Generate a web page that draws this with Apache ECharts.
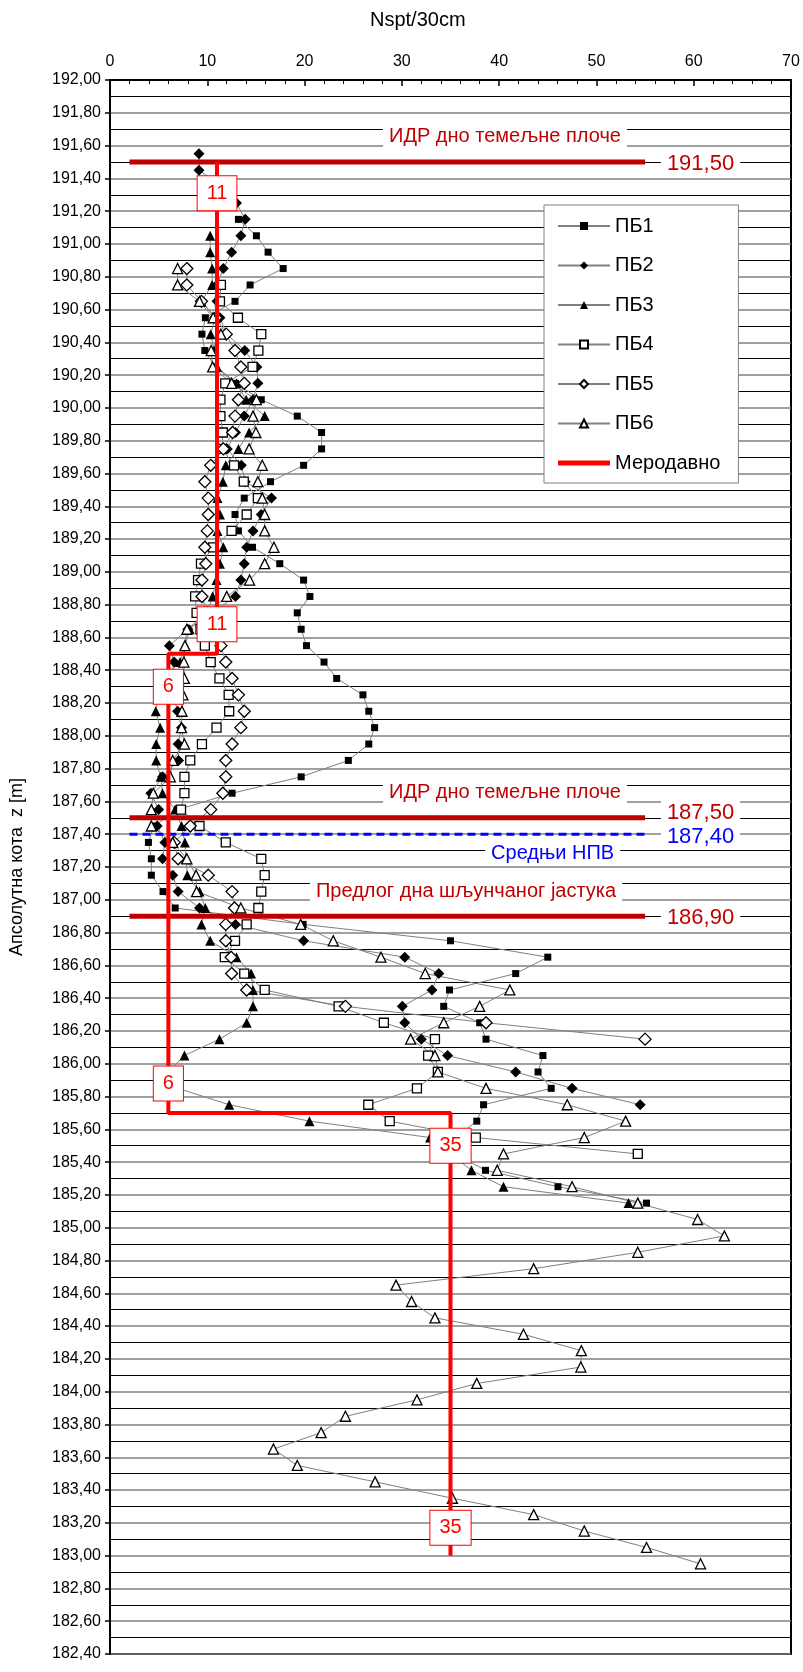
<!DOCTYPE html>
<html><head><meta charset="utf-8">
<script src="https://cdn.jsdelivr.net/npm/echarts@6/dist/echarts.min.js"></script>
<style>html,body{margin:0;padding:0;background:#fff}#c{width:803px;height:1672px}</style>
</head><body><div id="c"></div>
<script>
// depth levels (m) at which Nspt values are plotted
const depths = [191.55,191.45,191.35,191.25,191.15,191.05,190.95,190.85,190.75,190.65,
190.55,190.45,190.35,190.25,190.15,190.05,189.95,189.85,189.75,189.65,
189.55,189.45,189.35,189.25,189.15,189.05,188.95,188.85,188.75,188.65,
188.55,188.45,188.35,188.25,188.15,188.05,187.95,187.85,187.75,187.65,
187.55,187.45,187.35,187.25,187.15,187.05,186.95,186.85,186.75,186.65,
186.55,186.45,186.35,186.25,186.15,186.05,185.95,185.85,185.75,185.65,
185.55,185.45,185.35,185.25,185.15,185.05,184.95,184.85,184.75,184.65,
184.55,184.45,184.35,184.25,184.15,184.05,183.95,183.85,183.75,183.65,
183.55,183.45,183.35,183.25,183.15,183.05,182.95];

const PB1 = [null,null,null,null,13.2,15.05,16.25,17.8,14.4,12.85,
9.8,9.45,9.75,10.8,12.9,15.55,19.25,21.75,21.75,19.9,
16.5,13.8,12.85,13.2,14.65,17.45,19.9,20.55,19.25,19.65,
20.2,22.0,23.3,26.0,26.6,27.2,26.6,24.5,19.65,12.55,
7.0,4.5,3.95,4.25,4.25,5.45,6.7,19.85,35.0,45.0,
41.7,34.9,34.3,38.0,38.65,44.5,44.0,45.35,38.4,37.7,
35.5,35.5,38.6,46.05,55.15];
const PB2 = [9.15,9.15,11.5,13.0,13.9,13.45,12.5,11.65,11.0,11.0,
11.3,12.0,13.85,15.1,15.2,14.7,13.8,12.9,12.05,13.5,
13.9,16.6,15.55,14.7,14.05,13.8,13.45,12.9,10.5,8.0,
6.1,6.6,6.2,6.5,6.95,7.35,7.0,7.05,5.4,4.2,
5.0,4.85,5.65,5.4,6.45,7.0,9.2,12.9,19.9,30.3,
33.8,33.1,30.05,30.3,32.0,34.7,41.7,47.5,54.5];
const PB3 = [null,null,null,null,null,10.3,10.3,10.5,10.5,9.4,
10.8,10.35,10.7,11.0,13.0,14.0,15.9,14.3,13.2,11.9,
11.6,11.05,11.3,11.05,11.65,11.3,10.95,10.55,10.0,8.2,
7.7,7.2,5.5,5.0,4.7,5.15,4.75,4.75,5.2,5.4,
6.7,7.35,7.7,7.8,7.95,9.2,9.8,9.4,10.3,13.0,
14.5,14.7,14.7,14.05,11.25,7.65,6.0,7.0,12.25,20.5,
32.9,35.0,37.15,40.45,53.3];
const PB4 = [null,null,null,null,null,null,null,null,11.4,11.3,
13.15,15.55,15.25,14.65,11.85,11.35,11.35,11.6,11.5,12.75,
13.75,15.2,14.05,12.5,10.6,9.35,9.05,8.75,8.9,9.3,
9.75,10.35,11.25,12.2,12.25,10.95,9.45,8.25,7.65,7.65,
7.3,9.2,11.9,15.55,15.9,15.55,15.25,14.05,12.85,11.8,
13.8,15.9,23.5,28.15,33.4,32.7,33.7,31.55,26.55,28.75,
37.6,54.25];
const PB5 = [null,null,null,null,null,null,null,7.9,7.9,9.4,
10.9,11.95,12.85,13.45,13.8,13.2,12.85,12.6,11.65,10.35,
9.75,10.1,10.1,10.0,9.75,9.85,9.45,9.45,10.0,10.8,
11.4,11.9,12.55,13.2,13.8,13.45,12.55,11.9,11.9,11.6,
10.35,8.25,6.6,7.0,10.1,12.55,12.8,11.9,11.9,12.45,
12.5,14.05,24.2,38.65,55.0];
const PB6 = [null,null,null,null,null,null,null,6.95,6.95,9.2,
10.6,11.4,10.4,10.55,12.5,15.05,14.7,15.0,14.3,15.65,
15.2,15.65,15.9,15.9,16.85,15.9,14.35,12.0,10.0,7.9,
7.7,7.6,7.65,7.5,7.4,7.35,7.65,6.45,6.2,4.45,
4.25,4.25,6.45,7.9,8.85,8.9,13.45,19.6,22.95,27.85,
32.4,41.1,38.0,34.3,30.9,33.4,33.7,38.65,47.0,53.0,
48.75,40.45,39.8,47.5,54.25,60.4,63.15,54.25,43.55,29.4,
31.0,33.4,42.5,48.45,48.4,37.7,31.55,24.2,21.7,16.8,
19.25,27.25,35.2,43.55,48.75,55.15,60.7];

// governing ("Меродавно") step profile
const govN = [11, 11, 6, 6, 35, 35];
const govZ = [191.5, 188.5, 188.5, 185.7, 185.7, 183.0];
// boxed value labels on the governing line
const govLabelN = [11, 11, 6, 6, 35, 35];
const govLabelZ = [191.31, 188.68, 188.30, 185.88, 185.50, 183.17];

// reference levels
const levelZ = [191.5, 187.5, 186.9];
const levelText = ['191,50', '187,50', '186,90'];
const levelLabelZ = [191.49, 187.53, 186.89];
const gwlZ = 187.4, gwlText = '187,40', gwlLabelZ = 187.385;
const levelFrom = 2, levelTo = 55, levelLabelN = 60.7;

// text notes
const notes = [
  {t: 'ИДР дно темељне плоче', n: 40.6, z: 191.655, c: '#c00000'},
  {t: 'ИДР дно темељне плоче', n: 40.6, z: 187.655, c: '#c00000'},
  {t: 'Средњи НПВ', n: 45.5, z: 187.28, c: '#0000ff'},
  {t: 'Предлог дна шљунчаног јастука', n: 36.6, z: 187.05, c: '#c00000'}
];

const xTicks = {min: 0, max: 70, step: 10};
const yTicks = {min: 182.4, max: 192.0, step: 0.2};

function pts(arr) {
  const out = [];
  arr.forEach((v, i) => { if (v != null) out.push([v, depths[i]]); });
  return out;
}

const lineGray = {color: '#808080', width: 1};
const FONT = 'Liberation Sans, Arial, sans-serif';
const CLEAR = 'rgba(0,0,0,0)';

function pbSeries(name, arr, symbol, size, filled) {
  return {
    name, type: 'line', data: pts(arr), symbol, symbolSize: size,
    showSymbol: true, lineStyle: lineGray, z: 3,
    itemStyle: filled ? {color: '#000'} : {color: '#fff', borderColor: '#000', borderWidth: 1.3},
    emphasis: {disabled: true}, animation: false
  };
}

const series = [
  pbSeries('ПБ1', PB1, 'rect', 7, true),
  pbSeries('ПБ2', PB2, 'diamond', 11, true),
  pbSeries('ПБ3', PB3, 'triangle', 10, true),
  pbSeries('ПБ4', PB4, 'rect', 9, false),
  pbSeries('ПБ5', PB5, 'diamond', 12, false),
  pbSeries('ПБ6', PB6, 'triangle', 10, false)
];

// level lines
levelZ.forEach((z, i) => {
  series.push({
    name: 'lvl' + i, type: 'line', data: [[levelFrom, z], [levelTo, z]],
    symbol: 'none', lineStyle: {color: '#c00000', width: 5}, z: 4, animation: false, silent: true
  });
});
series.push({
  name: 'gwl', type: 'line', data: [[levelFrom, gwlZ], [levelTo, gwlZ]],
  symbol: 'none', lineStyle: {color: '#0000ff', width: 3, type: [8, 5]}, z: 4, animation: false, silent: true
});

series.push({
  name: 'Меродавно', type: 'line', data: govN.map((n, i) => [n, govZ[i]]),
  symbol: 'none', lineStyle: {color: '#ff0000', width: 4}, itemStyle: {color: '#ff0000'}, z: 5, animation: false
});

function labelSeries(name, data, label, z) {
  return {
    name, type: 'scatter', symbol: 'rect', symbolSize: 1, z, animation: false, silent: true,
    itemStyle: {color: CLEAR, opacity: 1}, emphasis: {disabled: true},
    labelLayout: {hideOverlap: false},
    data, label: Object.assign({show: true, position: 'inside', fontFamily: FONT}, label)
  };
}

// level value labels (ground-water label first so 187,50 stays on top)
const lvlLabelData = [{value: [levelLabelN, gwlLabelZ], name: gwlText, label: {color: '#0000ff'}}];
levelZ.forEach((z, i) => lvlLabelData.push({value: [levelLabelN, levelLabelZ[i]], name: levelText[i], label: {color: '#c00000'}}));
series.push(labelSeries('lvlLabels', lvlLabelData,
  {formatter: p => p.name, fontSize: 22, backgroundColor: '#fff', padding: [2, 6]}, 8));

// notes
series.push(labelSeries('notes',
  notes.map(d => ({value: [d.n, d.z], name: d.t, label: {color: d.c}})),
  {formatter: p => p.name, fontSize: 20, backgroundColor: '#fff', padding: [1, 6]}, 8));

// governing value boxes
series.push(labelSeries('govLabels',
  govLabelN.map((n, i) => ({value: [n, govLabelZ[i]], name: String(n)})),
  {formatter: p => p.name, fontSize: 20, color: '#ff0000', backgroundColor: '#fff',
   borderColor: '#ff0000', borderWidth: 1, padding: [7, 9]}, 9));

const chart = echarts.init(document.getElementById('c'), null, {renderer: 'canvas'});
chart.setOption({
  animation: false,
  backgroundColor: '#fff',
  textStyle: {fontFamily: FONT},
  grid: {left: 106, right: 12, top: 80, bottom: 18, show: true, borderColor: '#000', borderWidth: 2, backgroundColor: 'transparent'},
  graphic: [{type: 'text', left: 370, top: 10, style: {text: 'Nspt/30cm', font: '20px ' + FONT, fill: '#000'}}],
  legend: {
    orient: 'vertical', left: 544, top: 205,
    data: ['ПБ1','ПБ2','ПБ3','ПБ4','ПБ5','ПБ6', {name: 'Меродавно', icon: 'path://M0,0h52v5h-52z'}],
    itemWidth: 52, itemHeight: 10, itemGap: 19.5, padding: [11, 18, 10, 13],
    backgroundColor: '#fff', borderColor: '#808080', borderWidth: 1,
    textStyle: {fontSize: 20, lineHeight: 20, color: '#000', fontFamily: FONT},
    selectedMode: false
  },
  xAxis: {
    type: 'value', position: 'top', min: xTicks.min, max: xTicks.max, interval: xTicks.step,
    axisLine: {show: true, lineStyle: {color: '#000', width: 2}},
    axisTick: {show: true, inside: true, length: 6, lineStyle: {color: '#000', width: 1.5}},
    minorTick: {show: true, splitNumber: 5, length: 4, lineStyle: {color: '#000', width: 1}},
    splitLine: {show: false},
    axisLabel: {fontSize: 16, color: '#000', margin: 10, fontFamily: FONT}
  },
  yAxis: {
    type: 'value', min: yTicks.min, max: yTicks.max, interval: yTicks.step,
    name: 'Апсолутна кота  z [m]', nameLocation: 'middle', nameGap: 84, nameRotate: 90,
    nameTextStyle: {fontSize: 18, color: '#000', fontFamily: FONT},
    axisLine: {show: true, lineStyle: {color: '#000', width: 2}},
    axisTick: {show: true, inside: false, length: 5, lineStyle: {color: '#000', width: 1.5}},
    minorTick: {show: false, splitNumber: 2},
    splitLine: {show: true, lineStyle: {color: '#808080', width: 1.5}},
    minorSplitLine: {show: true, lineStyle: {color: '#000', width: 1.2}},
    axisLabel: {fontSize: 16, color: '#000', margin: 9, fontFamily: FONT,
      formatter: v => v.toFixed(2).replace('.', ',')}
  },
  series
});
</script></body></html>
